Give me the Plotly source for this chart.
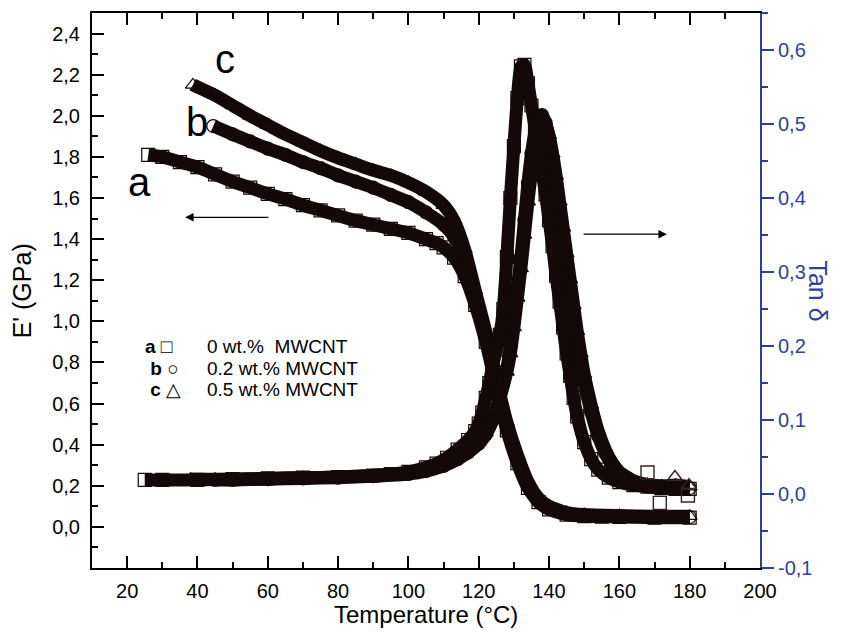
import plotly.graph_objects as go

# ---------------- data ----------------
# Storage modulus E' (GPa) vs temperature (°C)
T_Ea = [26, 30, 35, 40, 45, 50, 55, 60, 65, 70, 75, 80, 85, 90, 95, 100, 105, 108, 110, 113, 116, 119, 122, 125, 128, 131, 134, 137, 140, 145, 150, 155, 160, 170, 180]
E_a = [1.81, 1.80, 1.775, 1.75, 1.715, 1.68, 1.65, 1.62, 1.595, 1.565, 1.54, 1.515, 1.49, 1.47, 1.45, 1.43, 1.40, 1.38, 1.36, 1.31, 1.22, 1.08, 0.90, 0.68, 0.47, 0.31, 0.19, 0.12, 0.085, 0.06, 0.052, 0.05, 0.048, 0.045, 0.045]

T_Eb = [44.5, 50, 55, 60, 65, 70, 75, 80, 85, 90, 95, 100, 105, 110, 113, 116, 119, 122, 125, 128, 131, 134, 137, 140, 145, 150, 155, 160, 170, 180]
E_b = [1.95, 1.91, 1.875, 1.84, 1.81, 1.775, 1.745, 1.71, 1.68, 1.65, 1.615, 1.58, 1.53, 1.47, 1.41, 1.31, 1.12, 0.93, 0.70, 0.49, 0.33, 0.21, 0.13, 0.09, 0.065, 0.056, 0.052, 0.05, 0.048, 0.048]

T_Ec = [38.7, 40, 45, 50, 55, 60, 65, 70, 75, 80, 85, 90, 95, 100, 105, 110, 113, 116, 119, 122, 125, 128, 131, 134, 137, 140, 145, 150, 160, 170, 180]
E_c = [2.15, 2.14, 2.10, 2.05, 2.00, 1.955, 1.91, 1.87, 1.83, 1.795, 1.765, 1.735, 1.71, 1.675, 1.63, 1.565, 1.49, 1.35, 1.15, 0.95, 0.72, 0.51, 0.35, 0.22, 0.14, 0.10, 0.07, 0.06, 0.055, 0.052, 0.052]

# Loss factor tan delta vs temperature (°C)
T_ta = [25, 30, 40, 50, 60, 70, 80, 90, 95, 100, 105, 108, 111, 114, 117, 119, 120, 121, 122, 123, 124, 125, 126, 127, 128, 129, 130, 131, 132, 133, 134, 135, 136, 137, 138, 139, 140, 141, 142, 143, 144, 145, 146, 147, 148, 150, 152, 154, 157, 160, 164, 168, 172, 176, 180]
tan_a = [0.019, 0.019, 0.019, 0.020, 0.021, 0.022, 0.023, 0.025, 0.027, 0.030, 0.036, 0.041, 0.049, 0.060, 0.073, 0.085, 0.095, 0.110, 0.130, 0.150, 0.175, 0.195, 0.215, 0.250, 0.320, 0.400, 0.470, 0.535, 0.578, 0.580, 0.555, 0.525, 0.495, 0.465, 0.435, 0.405, 0.370, 0.335, 0.295, 0.260, 0.225, 0.190, 0.160, 0.130, 0.105, 0.070, 0.047, 0.033, 0.022, 0.016, 0.012, 0.010, 0.008, 0.007, 0.007]

T_tb = [45, 50, 60, 70, 80, 90, 100, 105, 110, 114, 117, 120, 122, 124, 126, 128, 129, 130, 131, 132, 133, 134, 135, 136, 137, 138, 139, 140, 141, 142, 143, 144, 145, 146, 147, 148, 149, 150, 152, 154, 156, 158, 160, 164, 168, 172, 176, 180]
tan_b = [0.019, 0.019, 0.020, 0.021, 0.022, 0.024, 0.027, 0.031, 0.038, 0.047, 0.056, 0.068, 0.080, 0.100, 0.130, 0.170, 0.200, 0.240, 0.280, 0.320, 0.370, 0.420, 0.460, 0.490, 0.505, 0.512, 0.502, 0.480, 0.450, 0.415, 0.380, 0.345, 0.310, 0.275, 0.240, 0.205, 0.175, 0.150, 0.110, 0.078, 0.055, 0.038, 0.027, 0.016, 0.010, 0.008, 0.007, 0.008]

T_tc = [38, 45, 50, 60, 70, 80, 90, 100, 105, 110, 114, 117, 120, 122, 124, 126, 128, 129, 130, 131, 132, 133, 134, 135, 136, 137, 138, 139, 140, 141, 142, 143, 144, 145, 146, 147, 148, 149, 150, 152, 154, 156, 158, 160, 164, 168, 172, 176, 180]
tan_c = [0.020, 0.020, 0.020, 0.021, 0.022, 0.023, 0.025, 0.028, 0.032, 0.039, 0.048, 0.058, 0.070, 0.083, 0.102, 0.130, 0.165, 0.190, 0.225, 0.265, 0.305, 0.350, 0.395, 0.435, 0.470, 0.490, 0.502, 0.500, 0.485, 0.460, 0.430, 0.395, 0.360, 0.325, 0.290, 0.255, 0.220, 0.190, 0.162, 0.120, 0.085, 0.060, 0.042, 0.030, 0.018, 0.013, 0.011, 0.012, 0.010]

# scattered end-of-run points of tan delta (squares: a, triangles: c)
T_sq_out = [168, 171.5, 179.5]
tan_sq_out = [0.029, -0.012, -0.002]
T_tr_out = [175.8, 179.8]
tan_tr_out = [0.023, 0.012]

# tick labels
x_ticks = [20, 40, 60, 80, 100, 120, 140, 160, 180, 200]
yl_ticks = [0.0, 0.2, 0.4, 0.6, 0.8, 1.0, 1.2, 1.4, 1.6, 1.8, 2.0, 2.2, 2.4]
yl_text = ["0,0", "0,2", "0,4", "0,6", "0,8", "1,0", "1,2", "1,4", "1,6", "1,8", "2,0", "2,2", "2,4"]
yr_ticks = [-0.1, 0.0, 0.1, 0.2, 0.3, 0.4, 0.5, 0.6]
yr_text = ["-0,1", "0,0", "0,1", "0,2", "0,3", "0,4", "0,5", "0,6"]

legend_keys = ["<b>a</b> \u25a1", " <b>b</b> \u25cb", " <b>c</b> \u25b3"]
legend_labels = ["0 wt.%  MWCNT", "0.2 wt.% MWCNT", "0.5 wt.% MWCNT"]

# ---------------- figure ----------------
DARK = "#140909"
BLUE = "#2E3F9E"
FONT = "Arial, Liberation Sans, sans-serif"

fig = go.Figure()

def band(x, y, symbol, axis):
    fig.add_trace(go.Scatter(
        x=x, y=y, yaxis=axis, mode="lines+markers",
        line=dict(color=DARK, width=13, shape="spline", smoothing=0.6),
        marker=dict(symbol=symbol, size=13, color=DARK, line=dict(width=1.2, color=DARK)),
        showlegend=False, hoverinfo="skip"))

def dots(x, y, symbol, axis):
    fig.add_trace(go.Scatter(
        x=x, y=y, yaxis=axis, mode="markers",
        marker=dict(symbol=symbol, size=13, color="#3a2020", line=dict(width=1.4, color="#3a2020")),
        showlegend=False, hoverinfo="skip"))

band(T_Ea, E_a, "square-open", "y")
band(T_Eb, E_b, "circle-open", "y")
band(T_Ec, E_c, "triangle-up-open", "y")
band(T_ta, tan_a, "square-open", "y2")
band(T_tb, tan_b, "circle-open", "y2")
band(T_tc, tan_c, "triangle-up-open", "y2")
dots(T_sq_out, tan_sq_out, "square-open", "y2")
dots(T_tr_out, tan_tr_out, "triangle-up-open", "y2")

ann = []
# curve letters
for txt, xx, yy in [("a", 23.4, 1.676), ("b", 39.9, 1.972), ("c", 47.8, 2.277)]:
    ann.append(dict(x=xx, y=yy, xref="x", yref="y", text=txt, showarrow=False,
                    font=dict(size=40, color="black", family=FONT)))
# legend rows
for key, lab, yy in zip(legend_keys, legend_labels, [0.876, 0.772, 0.668]):
    ann.append(dict(x=24.5, y=yy, xref="x", yref="y", text=key, showarrow=False,
                    xanchor="left", font=dict(size=19, color="black", family=FONT)))
    ann.append(dict(x=42.2, y=yy, xref="x", yref="y", text=lab, showarrow=False,
                    xanchor="left", font=dict(size=19, color="black", family=FONT)))
# arrows
ann.append(dict(x=36.5, y=1.506, ax=60.6, ay=1.506, xref="x", yref="y", axref="x", ayref="y",
                text="", showarrow=True, arrowhead=2, arrowsize=1.4, arrowwidth=1.2, arrowcolor="black"))
ann.append(dict(x=173.5, y=1.424, ax=149.4, ay=1.424, xref="x", yref="y", axref="x", ayref="y",
                text="", showarrow=True, arrowhead=2, arrowsize=1.4, arrowwidth=1.2, arrowcolor="black"))
# axis titles
ann.append(dict(x=-0.105, y=0.5, xref="paper", yref="paper", xanchor="center", yanchor="middle",
                text="E' (GPa)", textangle=-90,
                showarrow=False, font=dict(size=25, color="black", family=FONT)))
ann.append(dict(x=1.087, y=0.5, xref="paper", yref="paper", xanchor="center", yanchor="middle",
                text="Tan \u03b4", textangle=90,
                showarrow=False, font=dict(size=25, color=BLUE, family=FONT)))
ann.append(dict(x=0.5, y=-0.0844, xref="paper", yref="paper", xanchor="center", yanchor="middle",
                text="Temperature (\u00b0C)",
                showarrow=False, font=dict(size=24, color="black", family=FONT)))

fig.update_layout(
    width=835, height=624,
    margin=dict(l=84, r=83, t=3, b=64),
    plot_bgcolor="white", paper_bgcolor="white",
    font=dict(family=FONT, size=20, color="black"),
    annotations=ann,
    xaxis=dict(range=[10, 200], tickvals=x_ticks, ticks="inside", ticklen=12, tickwidth=2,
               tickcolor="black", showline=True, linewidth=2, linecolor="black", mirror="ticks",
               showgrid=False, zeroline=False, ticklabelstandoff=4,
               minor=dict(dtick=10, tick0=10, ticks="inside", ticklen=6, tickwidth=2, tickcolor="black")),
    yaxis=dict(range=[-0.2, 2.5], tickvals=yl_ticks, ticktext=yl_text, ticks="inside", ticklen=12,
               tickwidth=2, tickcolor="black", showline=True, linewidth=2, linecolor="black",
               mirror=False, showgrid=False, zeroline=False, ticklabelstandoff=6,
               minor=dict(dtick=0.1, tick0=0, ticks="inside", ticklen=6, tickwidth=2, tickcolor="black")),
    yaxis2=dict(range=[-0.1, 0.65], overlaying="y", side="right", anchor="x",
                tickvals=yr_ticks, ticktext=yr_text, ticks="outside", ticklen=12, tickwidth=2,
                tickcolor=BLUE, showline=True, linewidth=2, linecolor=BLUE,
                tickfont=dict(color=BLUE, size=20), showgrid=False, zeroline=False,
                minor=dict(dtick=0.05, tick0=0, ticks="outside", ticklen=6, tickwidth=2, tickcolor=BLUE)),
)

fig.write_html("out.html")
